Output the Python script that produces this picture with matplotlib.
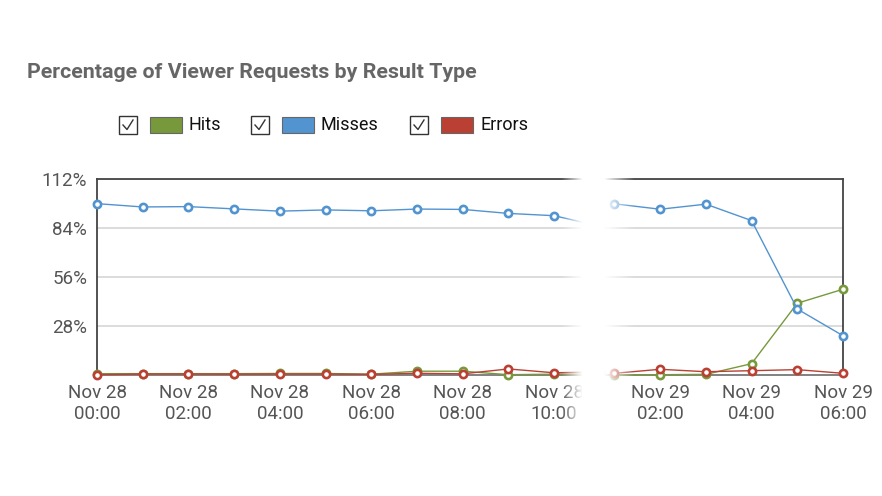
import numpy as np
import matplotlib.pyplot as plt
from matplotlib.patches import Rectangle
from matplotlib.lines import Line2D

plt.rcParams['font.family'] = ['Roboto', 'DejaVu Sans']

W, H = 882, 496

# Nov 28 00:00 .. 11:00 (left piece) and Nov 29 01:00 .. 06:00 (right piece)
hours_left = [0, 1, 2, 3, 4, 5, 6, 7, 8, 9, 10, 11]
hits_left = [0.6, 0.6, 0.6, 0.6, 0.7, 0.7, 0.3, 2.0, 2.0, 0.0, 0.3, 0.3]
misses_left = [97.9, 96.0, 96.2, 94.9, 93.6, 94.3, 93.8, 94.8, 94.6, 92.3, 91.0, 85.0]
errors_left = [0.0, 0.4, 0.4, 0.3, 0.4, 0.4, 0.2, 0.8, 0.5, 3.3, 1.1, 1.6]

hours_right = [25, 26, 27, 28, 29, 30]
hits_right = [0.0, 0.0, 0.2, 6.3, 40.9, 48.9]
misses_right = [97.8, 94.7, 97.6, 88.2, 37.6, 22.3]
errors_right = [0.8, 3.1, 1.7, 2.3, 2.9, 0.8]

hidden_hours = 13.68  # the hours cut out of the screenshot

tick_hours = [0, 2, 4, 6, 8, 10, 26, 28, 30]
tick_labels = ['Nov 28\n00:00', 'Nov 28\n02:00', 'Nov 28\n04:00', 'Nov 28\n06:00',
               'Nov 28\n08:00', 'Nov 28\n10:00', 'Nov 29\n02:00', 'Nov 29\n04:00',
               'Nov 29\n06:00']
y_ticks = [28, 56, 84, 112]

green = '#77993b'
blue = '#5294d0'
red = '#ba4033'


def pos(h):
    return [x if x < 20 else x - hidden_hours for x in h]


fig = plt.figure(figsize=(W / 100, H / 100), dpi=100)
ax = fig.add_axes([97 / W, 1 - 374.7 / H, (843 - 97) / W, (374.7 - 179) / H])

series = [(hits_left, hits_right, green), (misses_left, misses_right, blue),
          (errors_left, errors_right, red)]
for left, right, c in series:
    for hh, vals in ((hours_left, left), (hours_right, right)):
        ax.plot(pos(hh), vals, color=c, lw=1.0, marker='o', ms=5.2, mew=1.9,
                mfc='white', mec=c, clip_on=False, zorder=3)

ax.set_xlim(0, pos([30])[0])
ax.set_ylim(0, 112)
ax.set_yticks(y_ticks)
ax.set_yticklabels([f'{v}%' for v in y_ticks])
ax.set_xticks(pos(tick_hours))
ax.set_xticklabels(tick_labels)
ax.tick_params(length=0, labelsize=13.5, labelcolor='#555555', pad=7)
ax.grid(axis='y', color='#d6d6d6', lw=1.2)
ax.set_axisbelow(True)
for s in ['left', 'top', 'right']:
    ax.spines[s].set_color('#444444')
    ax.spines[s].set_linewidth(1.3)
ax.spines['bottom'].set_color('#777777')
ax.spines['bottom'].set_linewidth(1.3)

fig.text(27 / W, 1 - 72 / H, 'Percentage of Viewer Requests by Result Type',
         fontsize=15.4, fontweight='bold', color='#666666', va='center', ha='left')

# legend with checkboxes
def px(x, y):
    return x / W, 1 - y / H

legend = [('Hits', green, 119), ('Misses', blue, 251), ('Errors', red, 410)]
for name, c, x0 in legend:
    fig.patches.append(Rectangle(px(x0, 134), 18 / W, 18 / H, transform=fig.transFigure,
                                 facecolor='white', edgecolor='#333333', lw=1.0))
    cx = [x0 + 4, x0 + 8, x0 + 14]
    cy = [125, 129.5, 120]
    fig.lines.append(Line2D([v / W for v in cx], [1 - v / H for v in cy],
                            transform=fig.transFigure, color='#333333', lw=1.0))
    fig.patches.append(Rectangle(px(x0 + 31, 133), 32 / W, 16 / H, transform=fig.transFigure,
                                 facecolor=c, edgecolor='#666666', lw=0.8))
    fig.text(*px(x0 + 70, 125), name, fontsize=13, color='#111111', va='center', ha='left')

# white fade over the cut
x0f, x1f = 555, 640
cols = np.arange(x0f, x1f)
alpha = np.interp(cols, [561, 582, 604, 634], [0, 1, 1, 0])
img = np.ones((1, len(cols), 4))
img[0, :, 3] = alpha
fax = fig.add_axes([x0f / W, 1 - 430 / H, (x1f - x0f) / W, (430 - 168) / H])
fax.imshow(img, aspect='auto', interpolation='bilinear')
fax.axis('off')

fig.savefig('out.png', dpi=100)
